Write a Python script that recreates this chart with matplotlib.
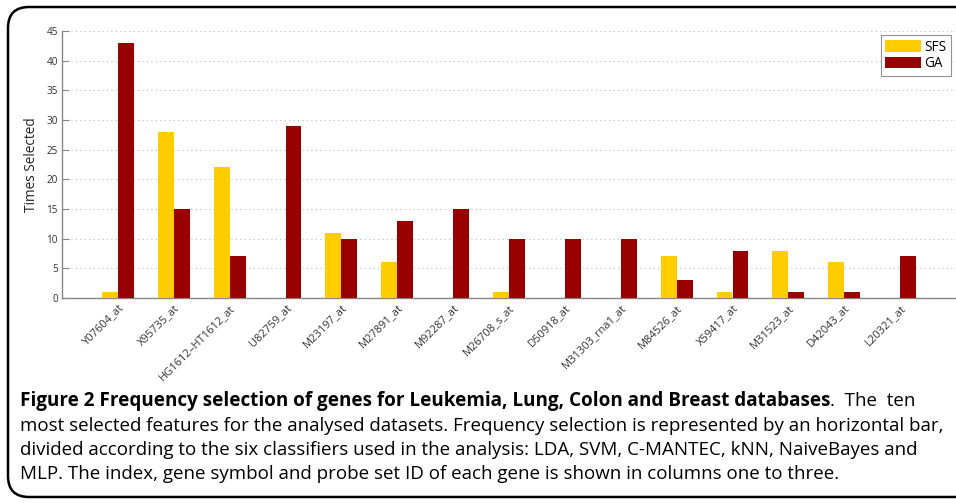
import matplotlib
matplotlib.use("Agg")
import matplotlib.pyplot as plt
from matplotlib.patches import FancyBboxPatch
import numpy as np

genes = ["Y07604_at", "X95735_at", "HG1612\u2013HT1612_at", "U82759_at", "M23197_at",
         "M27891_at", "M92287_at", "M26708_s_at", "D50918_at", "M31303_rna1_at",
         "M84526_at", "X59417_at", "M31523_at", "D42043_at", "L20321_at"]
sfs = [1, 28, 22, 0, 11, 6, 0, 1, 0, 0, 7, 1, 8, 6, 0]
ga = [43, 15, 7, 29, 10, 13, 15, 10, 10, 10, 3, 8, 1, 1, 7]
yticks = [0, 5, 10, 15, 20, 25, 30, 35, 40, 45]

caption_bold = "Figure 2 Frequency selection of genes for Leukemia, Lung, Colon and Breast databases"
caption_after_bold = ".  The  ten"
caption_lines = [
    "most selected features for the analysed datasets. Frequency selection is represented by an horizontal bar,",
    "divided according to the six classifiers used in the analysis: LDA, SVM, C-MANTEC, kNN, NaiveBayes and",
    "MLP. The index, gene symbol and probe set ID of each gene is shown in columns one to three.",
]

plt.rcParams['font.family'] = ['Open Sans', 'DejaVu Sans']
W, H = 956, 503
fig = plt.figure(figsize=(W / 100, H / 100), dpi=100)

# outer rounded frame
frame = FancyBboxPatch((8 / W, 1 - 497 / H), 1.2, (497 - 7) / H,
                       boxstyle="round,pad=0,rounding_size=0.022",
                       transform=fig.transFigure, fill=False, lw=1.8, ec="black",
                       mutation_aspect=W / H)
fig.patches.append(frame)

ax = fig.add_axes([62 / W, 1 - 298 / H, (956 - 62) / W, (298 - 31) / H])
x = np.arange(len(genes))
w = 0.286
ax.bar(x - w / 2, sfs, width=w, color="#FFCC00", label="SFS", zorder=3)
ax.bar(x + w / 2, ga, width=w, color="#990000", label="GA", zorder=3)
ax.set_xlim(-1, 15)
ax.set_ylim(0, 45)
ax.set_yticks(yticks)
ax.set_xticks(x)
ax.set_xticklabels(genes, rotation=45, ha="right", rotation_mode="anchor",
                   fontsize=8.0, color="#333333")
ax.tick_params(axis="x", length=0, pad=3)
ax.tick_params(axis="y", direction="in", length=5, width=0.8, color="#888888",
               labelsize=7.2, labelcolor="#333333", pad=3)
ax.yaxis.grid(True, linestyle=(0, (1, 3)), color="#bbbbbb", lw=0.8, zorder=0)
ax.set_axisbelow(True)
for s in ["top", "right"]:
    ax.spines[s].set_visible(False)
for s in ["left", "bottom"]:
    ax.spines[s].set_color("#888888")
    ax.spines[s].set_linewidth(1.0)
ax.set_ylabel("Times Selected", fontsize=9.8, color="#222222", labelpad=5)

leg = ax.legend(loc="upper right", bbox_to_anchor=(951 / W, 1 - 35 / H),
                bbox_transform=fig.transFigure, fontsize=9.8, frameon=True,
                fancybox=False, edgecolor="#777777", handlelength=2.6,
                handleheight=0.95, handletextpad=0.25, labelspacing=0.1,
                borderpad=0.35, borderaxespad=0)
leg.get_frame().set_linewidth(0.8)

# caption
fs = 13.5
x_left = 20
y0 = 1 - 401 / H
t = fig.text(x_left / W, y0, caption_bold, fontsize=13.6, fontweight="bold", va="center",
             ha="left", color="black")
fig.canvas.draw()
renderer = fig.canvas.get_renderer()
bb = t.get_window_extent(renderer)
fig.text(bb.x1 / W, y0, caption_after_bold, fontsize=fs, va="center", ha="left")

for i, line in enumerate(caption_lines):
    fig.text(x_left / W, 1 - (426 + 24.2 * i) / H, line, fontsize=fs, va="center", ha="left")

fig.savefig("out.png", dpi=100)
